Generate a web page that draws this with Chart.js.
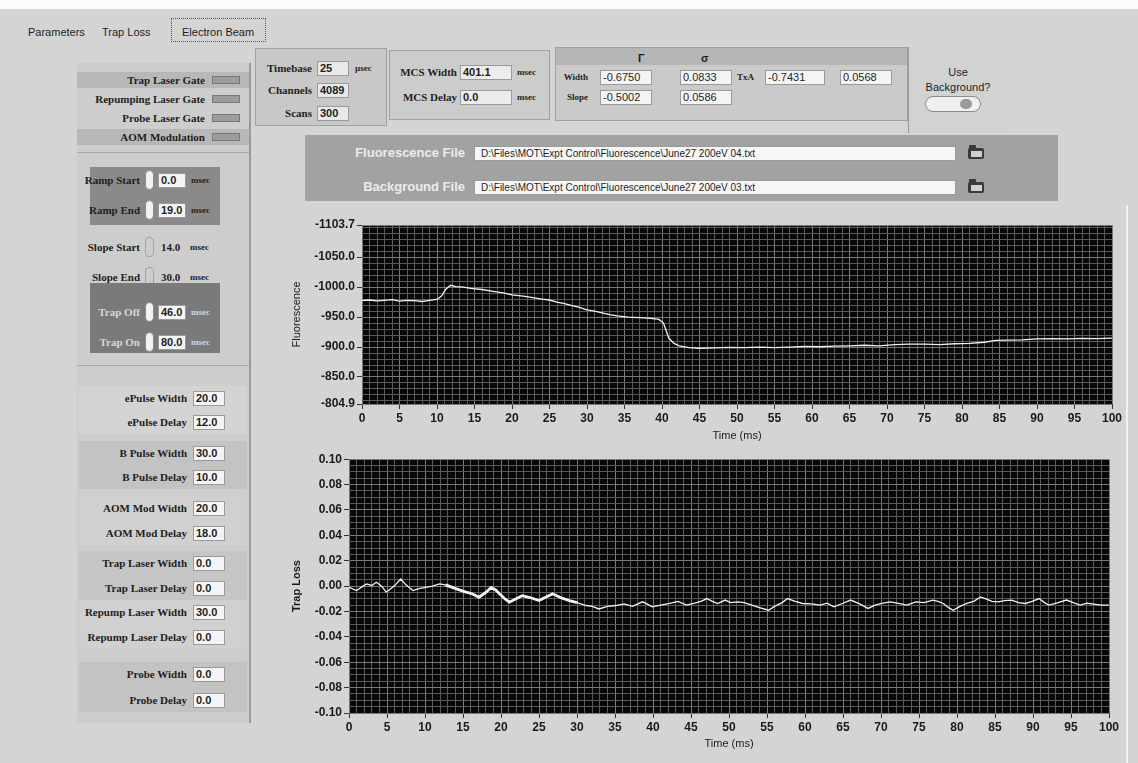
<!DOCTYPE html>
<html>
<head>
<meta charset="utf-8">
<title>Trap Loss</title>
<script src="https://cdn.jsdelivr.net/npm/chart.js@4.4.1/dist/chart.umd.min.js"></script>
<style>
  html, body { margin: 0; padding: 0; }
  body { width: 1138px; height: 763px; position: relative; overflow: hidden; background: #d4d4d4; font-family: "Liberation Sans", "DejaVu Sans", sans-serif; }
  .abs { position: absolute; }
  .txt { position: absolute; white-space: nowrap; font: bold 11px "Liberation Serif", serif; color: #1e1e1e; line-height: 14px; height: 14px; }
  .tab { position: absolute; white-space: nowrap; font: 11px "Liberation Sans", sans-serif; color: #1e1e1e; line-height: 14px; }
  .val { position: absolute; background: #f4f4f4; border: 1px solid #9a9a9a; box-sizing: border-box; height: 15px; font: bold 11px "Liberation Sans", sans-serif; color: #1e1e1e; line-height: 13px; padding-left: 2px; white-space: nowrap; overflow: hidden; }
  .led { position: absolute; width: 28px; height: 8px; background: #9c9c9c; border: 1px solid #777; box-sizing: border-box; }
  .spin { position: absolute; width: 9px; height: 20px; border-radius: 5px; background: #f2f2f2; border: 1px solid #888; box-sizing: border-box; }
  .folder { position: absolute; width: 16px; height: 11px; background: #3a3a3a; border-radius: 2px; }
  .folder::before { content: ""; position: absolute; left: 1px; top: -3px; width: 7px; height: 4px; background: #3a3a3a; border-radius: 1px; }
  .folder::after { content: ""; position: absolute; left: 3px; top: 3px; width: 11px; height: 6px; background: #d0d0d0; }
  canvas { position: absolute; }
</style>
</head>
<body>
<div id="ui"></div>
<canvas id="fluorChart" width="845" height="240" style="left:280px;top:215px;"></canvas>
<canvas id="lossChart" width="845" height="310" style="left:280px;top:450px;"></canvas>
<script>
// ---- Fluorescence trace (time in ms, fluorescence counts) ----
const fluorTime = [0, 1, 2, 3, 4, 5, 6, 7, 8, 9, 10, 10.6, 11.2, 11.8, 12.5, 13.5, 14.5, 16, 17.5, 19,
  20, 21.5, 23, 24, 25, 26, 27, 28, 29, 30, 31, 32, 33, 34, 35.5, 37, 38.5, 39.6, 40.2, 40.9,
  41.6, 42.3, 43.6, 45, 47, 49, 51, 53, 55, 57, 59, 61, 63, 65, 67, 69, 71, 73, 75, 77,
  79, 81, 83, 84.5, 86, 88, 90, 92, 94, 96, 98, 100];
const fluorValue = [-978, -978.5, -977, -978, -979, -976.5, -978, -977.5, -976, -978, -979.5, -985, -997, -1003, -1001, -1000, -998, -996, -993, -990,
  -987, -985, -982, -980, -978.5, -975, -972.5, -969, -966, -962, -960, -957, -954, -952, -950, -949, -948, -946, -940, -915,
  -906, -902, -899, -898, -898.5, -899.5, -899, -900, -899, -900, -901, -900.5, -901.5, -902, -903, -902, -904, -905, -905, -904,
  -905.5, -906, -908, -911, -911.5, -912, -913.5, -914, -913.5, -914.5, -914, -915];

// ---- Trap loss trace (time in ms, fractional loss) ----
const lossTime = [0, 1, 1.6, 2.3, 3, 3.6, 4.3, 4.9, 5.5, 6, 6.8, 7.5, 8.4, 9.2, 10.1, 11, 11.9, 12.7, 13.6, 14.5,
  15.4, 16.2, 17.1, 18, 18.7, 19.3, 19.8, 20.5, 21.1, 22, 22.8, 23.8, 25, 25.8, 26.8, 27.8, 29, 30, 31.2, 32,
  32.9, 34, 35.1, 36.2, 37.3, 38.6, 39.2, 39.9, 41, 42.2, 43.3, 44.4, 45.5, 46.3, 47.1, 47.8, 48.5, 49.5, 50.2, 51.2,
  52, 53, 54, 55.2, 56, 57, 57.7, 58.7, 59.7, 60.8, 62, 62.9, 63.8, 65, 66, 67.2, 68.3, 69.2, 70.1, 71.2,
  72.3, 73.4, 74.6, 75.7, 76.8, 77.5, 78.2, 78.9, 79.5, 80.4, 81.3, 82.2, 83.1, 83.8, 84.6, 85.4, 86.3, 87.2, 88.1, 89,
  89.9, 90.8, 91.5, 92.1, 93.3, 94.4, 95.3, 96.2, 97.1, 98, 99, 100];
const lossValue = [-0.001, -0.0035, -0.001, 0.0017, 0.0005, 0.003, 0.000, -0.0048, -0.002, 0.0004, 0.0056, 0.001, -0.0035, -0.002, -0.001, 0.000, 0.0017, 0.001, -0.001, -0.003,
  -0.0048, -0.006, -0.0088, -0.005, -0.001, -0.003, -0.006, -0.010, -0.0127, -0.010, -0.0075, -0.009, -0.0114, -0.009, -0.0061, -0.009, -0.0114, -0.013, -0.0153, -0.016,
  -0.018, -0.016, -0.0153, -0.014, -0.016, -0.0124, -0.014, -0.0163, -0.015, -0.0137, -0.012, -0.015, -0.0135, -0.012, -0.0098, -0.012, -0.0137, -0.011, -0.013, -0.0124,
  -0.013, -0.015, -0.017, -0.019, -0.016, -0.013, -0.0098, -0.012, -0.0137, -0.014, -0.015, -0.0135, -0.0163, -0.0135, -0.011, -0.014, -0.0176, -0.015, -0.0137, -0.0125,
  -0.0137, -0.015, -0.0124, -0.013, -0.011, -0.012, -0.0137, -0.017, -0.019, -0.016, -0.0137, -0.012, -0.0085, -0.010, -0.012, -0.0124, -0.0115, -0.011, -0.013, -0.0137,
  -0.012, -0.0098, -0.013, -0.015, -0.013, -0.011, -0.013, -0.015, -0.0135, -0.0142, -0.015, -0.015];
// stretch of the loss trace where two sweeps overlap and the line reads heavier
const lossHeavyRange = [12.5, 30];

// ---- Axis tick values and labels ----
const timeTickValues = [0, 5, 10, 15, 20, 25, 30, 35, 40, 45, 50, 55, 60, 65, 70, 75, 80, 85, 90, 95, 100];
const timeTickLabels = ['0', '5', '10', '15', '20', '25', '30', '35', '40', '45', '50', '55', '60', '65', '70', '75', '80', '85', '90', '95', '100'];
const fluorTickValues = [-1103.7, -1050, -1000, -950, -900, -850, -804.9];
const fluorTickLabels = ['-1103.7', '-1050.0', '-1000.0', '-950.0', '-900.0', '-850.0', '-804.9'];
const lossTickValues = [0.10, 0.08, 0.06, 0.04, 0.02, 0.00, -0.02, -0.04, -0.06, -0.08, -0.10];
const lossTickLabels = ['0.10', '0.08', '0.06', '0.04', '0.02', '0.00', '-0.02', '-0.04', '-0.06', '-0.08', '-0.10'];

// ---- Front panel controls ----
const tabNames = ['Parameters', 'Trap Loss', 'Electron Beam'];
const gateNames = ['Trap Laser Gate', 'Repumping Laser Gate', 'Probe Laser Gate', 'AOM Modulation'];
const rampNames = ['Ramp Start', 'Ramp End'];
const rampValues = ['0.0', '19.0'];
const slopeNames = ['Slope Start', 'Slope End'];
const slopeValues = ['14.0', '30.0'];
const trapNames = ['Trap Off', 'Trap On'];
const trapValues = ['46.0', '80.0'];
const pulseNames = ['ePulse Width', 'ePulse Delay', 'B Pulse Width', 'B Pulse Delay', 'AOM Mod Width', 'AOM Mod Delay',
  'Trap Laser Width', 'Trap Laser Delay', 'Repump Laser Width', 'Repump Laser Delay', 'Probe Width', 'Probe Delay'];
const pulseValues = ['20.0', '12.0', '30.0', '10.0', '20.0', '18.0', '0.0', '0.0', '30.0', '0.0', '0.0', '0.0'];
const acqNames = ['Timebase', 'Channels', 'Scans'];
const acqValues = ['25', '4089', '300'];
const mcsNames = ['MCS Width', 'MCS Delay'];
const mcsValues = ['401.1', '0.0'];
const fitColumns = ['Γ', 'σ'];
const fitRows = ['Width', 'Slope'];
const fitWidthValues = ['-0.6750', '0.0833'];
const fitSlopeValues = ['-0.5002', '0.0586'];
const txaValues = ['-0.7431', '0.0568'];
const fileNames = ['Fluorescence File', 'Background File'];
const filePaths = ['D:\\Files\\MOT\\Expt Control\\Fluorescence\\June27 200eV 04.txt',
                   'D:\\Files\\MOT\\Expt Control\\Fluorescence\\June27 200eV 03.txt'];

// ---- helpers to lay out the panel ----
const ui = document.getElementById('ui');
function el(cls, css, text) {
  const d = document.createElement('div');
  d.className = cls;
  Object.assign(d.style, css);
  if (text !== undefined) d.textContent = text;
  ui.appendChild(d);
  return d;
}
function rect(x, y, w, h, bg, extra) {
  return el('abs', Object.assign({ left: x + 'px', top: y + 'px', width: w + 'px', height: h + 'px', background: bg }, extra || {}));
}
function labelR(text, xRight, yc, extra) {
  return el('txt', Object.assign({ left: (xRight - 220) + 'px', width: '220px', textAlign: 'right', top: (yc - 7) + 'px' }, extra || {}), text);
}
function labelL(text, x, yc, extra) {
  return el('txt', Object.assign({ left: x + 'px', top: (yc - 7) + 'px' }, extra || {}), text);
}
function valBox(text, x, yc, w, extra) {
  return el('val', Object.assign({ left: x + 'px', top: (yc - 7) + 'px', width: w + 'px' }, extra || {}), text);
}

// top strip and tabs
rect(0, 0, 1138, 9, '#fbfbfb');
el('tab', { left: '28px', top: '25px' }, tabNames[0]);
el('tab', { left: '102px', top: '25px' }, tabNames[1]);
el('tab', { left: '182px', top: '25px' }, tabNames[2]);
rect(171, 18, 95, 24, 'transparent', { border: '1px dotted #555', boxSizing: 'border-box' });

// left control column
rect(77, 63, 174, 660, '#cdcdcd', { borderRight: '2px solid #9a9a9a', boxSizing: 'border-box' });
rect(77, 72, 172, 16, '#b8b8b8');
rect(77, 129, 172, 16, '#b8b8b8');
const gateY = [80, 99, 118, 137];
gateNames.forEach((n, i) => { labelR(n, 205, gateY[i]); el('led', { left: '212px', top: (gateY[i] - 4) + 'px' }); });
rect(77, 152, 172, 1, '#a8a8a8');

// ramp timing (dark block)
rect(90, 167, 130, 58, '#8a8a8a');
const rampY = [180, 210];
rampNames.forEach((n, i) => {
  labelR(n, 140, rampY[i]);
  el('spin', { left: '145px', top: (rampY[i] - 10) + 'px' });
  valBox(rampValues[i], 158, rampY[i], 28);
  labelL('msec', 191, rampY[i], { fontSize: '9px' });
});
// slope timing
const slopeY = [247, 277];
slopeNames.forEach((n, i) => {
  labelR(n, 140, slopeY[i]);
  el('spin', { left: '145px', top: (slopeY[i] - 10) + 'px', background: 'transparent', border: '1px dotted #777' });
  labelL(slopeValues[i], 161, slopeY[i]);
  labelL('msec', 190, slopeY[i], { fontSize: '9px' });
});
// trap switching (dark block)
rect(90, 283, 130, 70, '#7a7a7a');
const trapY = [312, 342];
trapNames.forEach((n, i) => {
  labelR(n, 140, trapY[i], { color: '#d6d6d6' });
  el('spin', { left: '145px', top: (trapY[i] - 10) + 'px' });
  valBox(trapValues[i], 158, trapY[i], 28);
  labelL('msec', 191, trapY[i], { fontSize: '9px', color: '#d6d6d6' });
});
rect(77, 365, 172, 1, '#a8a8a8');

// pulse widths and delays
const pulseY = [398, 422, 453, 477, 508, 533, 563, 588, 612, 637, 674, 700];
const pulseBand = [[386, 48, '#d3d3d3'], [441, 48, '#c3c3c3'], [496, 49, '#d0d0d0'], [551, 49, '#c5c5c5'], [600, 49, '#d0d0d0'], [662, 50, '#c3c3c3']];
pulseBand.forEach(b => rect(79, b[0], 168, b[1], b[2]));
pulseNames.forEach((n, i) => { labelR(n, 187, pulseY[i]); valBox(pulseValues[i], 193, pulseY[i], 32); });

// acquisition settings
rect(255, 48, 132, 78, '#c8c8c8', { border: '1px solid #a0a0a0', boxSizing: 'border-box' });
const acqY = [68, 90, 113];
acqNames.forEach((n, i) => { labelR(n, 312, acqY[i]); valBox(acqValues[i], 317, acqY[i], 32, { background: '#e9e9e9' }); });
labelL('µsec', 355, 68, { fontSize: '9px' });

// MCS settings
rect(389, 50, 161, 70, '#cccccc', { border: '1px solid #a0a0a0', boxSizing: 'border-box' });
const mcsY = [72, 97];
mcsNames.forEach((n, i) => { labelR(n, 457, mcsY[i]); valBox(mcsValues[i], 460, mcsY[i], 52, { background: '#ececec' }); labelL('msec', 517, mcsY[i], { fontSize: '9px' }); });

// fit results
rect(555, 47, 353, 74, '#cacaca', { border: '1px solid #a0a0a0', boxSizing: 'border-box' });
rect(556, 48, 351, 17, '#b6b6b6');
labelL(fitColumns[0], 638, 58, { fontFamily: '"Liberation Sans", sans-serif' });
labelL(fitColumns[1], 701, 58, { fontFamily: '"Liberation Sans", sans-serif' });
labelR(fitRows[0], 588, 77, { fontSize: '9px' });
labelR(fitRows[1], 588, 97, { fontSize: '9px' });
valBox(fitWidthValues[0], 600, 77, 52, { fontWeight: 'normal' });
valBox(fitWidthValues[1], 680, 77, 52, { fontWeight: 'normal' });
valBox(fitSlopeValues[0], 600, 97, 52, { fontWeight: 'normal' });
valBox(fitSlopeValues[1], 680, 97, 52, { fontWeight: 'normal' });
labelL('TxA', 737, 77, { fontSize: '9px' });
valBox(txaValues[0], 765, 77, 60, { fontWeight: 'normal' });
valBox(txaValues[1], 840, 77, 52, { fontWeight: 'normal' });

// background toggle
rect(908, 47, 100, 86, '#d2d2d2', { borderLeft: '1px solid #9a9a9a', boxSizing: 'border-box' });
el('tab', { left: '908px', width: '100px', textAlign: 'center', top: '65px' }, 'Use');
el('tab', { left: '908px', width: '100px', textAlign: 'center', top: '80px' }, 'Background?');
rect(925, 96, 56, 16, '#f0f0f0', { borderRadius: '8px', border: '1px solid #8a8a8a', boxSizing: 'border-box' });
rect(960, 99, 12, 10, '#9a9a9a', { borderRadius: '5px' });

// data files
rect(305, 135, 753, 66, '#a2a2a2');
const fileY = [153, 187];
fileNames.forEach((n, i) => {
  labelR(n, 465, fileY[i], { fontFamily: '"Liberation Sans", sans-serif', fontSize: '13px', color: '#ececec' });
  valBox(filePaths[i], 474, fileY[i], 482, { fontWeight: 'normal', fontSize: '10px', background: '#f6f6f6', paddingLeft: '6px' });
  el('folder', { left: '968px', top: (fileY[i] - 5) + 'px' });
});

// right edge frame
rect(1126, 205, 2, 558, '#f2f2f2');

// ---- charts ----
const plotBackground = {
  id: 'plotBackground',
  beforeDraw(chart) {
    const { ctx, chartArea: a } = chart;
    ctx.save();
    ctx.fillStyle = '#080808';
    ctx.fillRect(a.left, a.top, a.right - a.left, a.bottom - a.top);
    ctx.restore();
  }
};

function near(a, b) { return Math.abs(a - b) < 1e-6; }
function lookup(values, labels, v) {
  for (let i = 0; i < values.length; i++) if (near(values[i], v)) return labels[i];
  return '';
}
function isMajor(values, v) { return values.some(t => near(t, v)); }
function gridTicks(from, to, step, majors) {
  const out = [];
  const n = Math.round((to - from) / step);
  for (let i = 0; i <= n; i++) out.push(+(from + i * step).toFixed(6));
  majors.forEach(m => { if (!out.some(v => near(v, m))) out.push(m); });
  out.sort((a, b) => a - b);
  return out.map(v => ({ value: v }));
}

const tickFont = { family: '"Liberation Sans", sans-serif', size: 12, weight: 'bold' };
const titleFont = { family: '"Liberation Sans", sans-serif', size: 11 };
const MINOR_GRID = '#5a5a5a';
const MAJOR_GRID = '#7a7a7a';

function timeAxis(height, titlePad) {
  return {
    type: 'linear', min: 0, max: 100,
    afterBuildTicks: s => { s.ticks = gridTicks(0, 100, 1, timeTickValues); },
    afterFit: s => { s.height = height; },
    ticks: { autoSkip: false, maxRotation: 0, padding: 2, color: '#1a1a1a', font: tickFont,
             callback: v => lookup(timeTickValues, timeTickLabels, v) },
    grid: { color: c => (c.tick && isMajor(timeTickValues, c.tick.value)) ? MAJOR_GRID : MINOR_GRID,
            tickColor: c => (c.tick && isMajor(timeTickValues, c.tick.value)) ? '#333' : 'rgba(0,0,0,0)',
            tickLength: 5, lineWidth: 1 },
    border: { display: false },
    title: { display: true, text: 'Time (ms)', color: '#1a1a1a', font: titleFont, padding: { top: 0, bottom: titlePad } }
  };
}

new Chart(document.getElementById('fluorChart'), {
  type: 'line',
  data: {
    datasets: [{
      data: fluorTime.map((t, i) => ({ x: t, y: fluorValue[i] })),
      borderColor: '#f2f2f2', borderWidth: 1.3, pointRadius: 0, tension: 0, fill: false
    }]
  },
  options: {
    responsive: false, animation: false, parsing: false,
    layout: { padding: { left: 10, top: 10, right: 13, bottom: 0 } },
    plugins: { legend: { display: false }, tooltip: { enabled: false } },
    scales: {
      x: timeAxis(51, 12),
      y: {
        type: 'linear', reverse: true, min: -1103.7, max: -804.9,
        afterBuildTicks: s => { s.ticks = gridTicks(-1100, -810, 10, fluorTickValues); },
        afterFit: s => { s.width = 72; },
        ticks: { autoSkip: false, padding: 2, color: '#1a1a1a', font: tickFont,
                 callback: v => lookup(fluorTickValues, fluorTickLabels, v) },
        grid: { color: c => (c.tick && isMajor(fluorTickValues, c.tick.value)) ? MAJOR_GRID : MINOR_GRID,
                tickColor: c => (c.tick && isMajor(fluorTickValues, c.tick.value)) ? '#333' : 'rgba(0,0,0,0)',
                tickLength: 5 },
        border: { display: false },
        title: { display: true, text: 'Fluorescence', color: '#1a1a1a', font: titleFont, padding: { top: 0, bottom: 0 } }
      }
    }
  },
  plugins: [plotBackground]
});

new Chart(document.getElementById('lossChart'), {
  type: 'line',
  data: {
    datasets: [{
      data: lossTime.map((t, i) => ({ x: t, y: lossValue[i] })),
      borderColor: '#f2f2f2', borderWidth: 1.3, pointRadius: 0, tension: 0, fill: false,
      segment: {
        borderWidth: c => (c.p0.parsed.x >= lossHeavyRange[0] && c.p1.parsed.x <= lossHeavyRange[1]) ? 2.8 : 1.3
      }
    }]
  },
  options: {
    responsive: false, animation: false, parsing: false,
    layout: { padding: { left: 10, top: 8, right: 16, bottom: 0 } },
    plugins: { legend: { display: false }, tooltip: { enabled: false } },
    scales: {
      x: timeAxis(47, 9),
      y: {
        type: 'linear', min: -0.10, max: 0.10,
        afterBuildTicks: s => { s.ticks = gridTicks(-0.10, 0.10, 0.005, lossTickValues); },
        afterFit: s => { s.width = 59; },
        ticks: { autoSkip: false, padding: 2, color: '#1a1a1a', font: tickFont,
                 callback: v => lookup(lossTickValues, lossTickLabels, v) },
        grid: { color: c => (c.tick && isMajor(lossTickValues, c.tick.value)) ? MAJOR_GRID : MINOR_GRID,
                tickColor: c => (c.tick && isMajor(lossTickValues, c.tick.value)) ? '#333' : 'rgba(0,0,0,0)',
                tickLength: 5 },
        border: { display: false },
        title: { display: true, text: 'Trap Loss', color: '#1a1a1a', font: { family: '"Liberation Sans", sans-serif', size: 11, weight: 'bold' }, padding: { top: 0, bottom: 0 } }
      }
    }
  },
  plugins: [plotBackground]
});
</script>
</body>
</html>
